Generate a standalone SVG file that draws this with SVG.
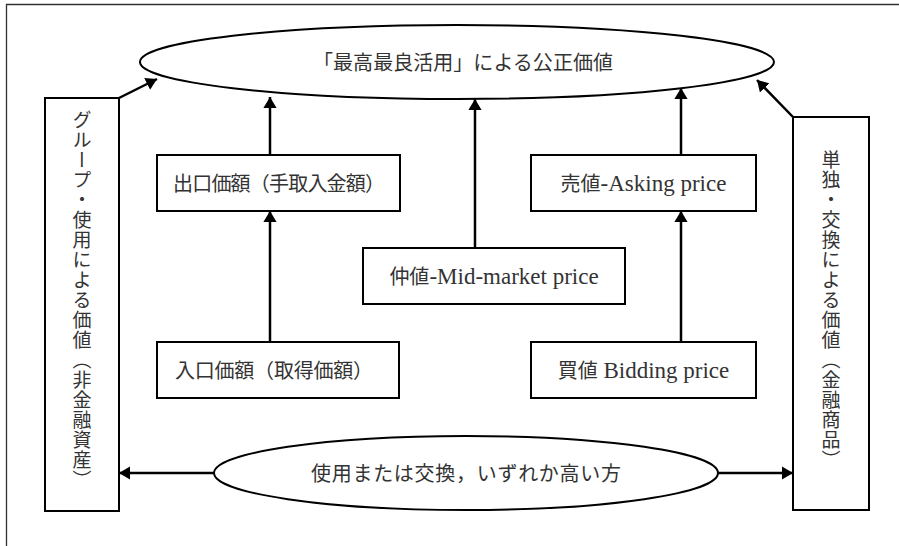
<svg xmlns="http://www.w3.org/2000/svg" width="899" height="546" viewBox="0 0 899 546">
<style>
  .bg { fill: #ffffff; }
  .frame { fill: none; stroke: #333; stroke-width: 1.3; }
  .node { fill: #ffffff; stroke: #000; stroke-width: 2; }
  .lbl { font-family: "Liberation Serif", "Noto Sans CJK JP", serif; font-size: 20px; fill: #333; text-anchor: middle; }
  .lat { font-size: 23px; }
  .vlbl { font-family: "Noto Sans CJK JP", sans-serif; font-size: 19px; fill: #333; writing-mode: vertical-rl; letter-spacing: 1px; }
  .edge { fill: none; stroke: #000; stroke-width: 2.5; }
</style>
<defs>
  <marker id="ah" viewBox="0 0 10 12" refX="10" refY="6" markerWidth="4.4" markerHeight="5.3" markerUnits="strokeWidth" orient="auto">
    <path d="M0,0 L10,6 L0,12 z" fill="#000"/>
  </marker>
</defs>
<rect class="bg" x="0" y="0" width="899" height="546"/>
<path class="frame" d="M6.5,546 L6.5,4.5 L899,4.5"/>

<g id="node-top">
  <ellipse class="node" cx="457" cy="62" rx="317" ry="37"/>
  <text class="lbl" x="463" y="69.5" textLength="300" lengthAdjust="spacing">「最高最良活用」による公正価値</text>
</g>
<g id="node-group">
  <rect class="node" x="45" y="98" width="74" height="413"/>
  <text class="vlbl" x="82" y="110">グループ・使用による価値（非金融資産）</text>
</g>
<g id="node-single">
  <rect class="node" x="793" y="117" width="76" height="393"/>
  <text class="vlbl" x="831" y="150">単独・交換による価値（金融商品）</text>
</g>
<g id="node-exit">
  <rect class="node" x="157" y="155" width="243" height="56"/>
  <text class="lbl" x="279" y="190.5" textLength="212" lengthAdjust="spacing">出口価額（手取入金額）</text>
</g>
<g id="node-ask">
  <rect class="node" x="531" y="155" width="225" height="56"/>
  <text class="lbl" x="643.5" y="190.5">売値<tspan class="lat">-Asking price</tspan></text>
</g>
<g id="node-mid">
  <rect class="node" x="363" y="248" width="262" height="56"/>
  <text class="lbl" x="494" y="283.5">仲値<tspan class="lat">-Mid-market price</tspan></text>
</g>
<g id="node-entry">
  <rect class="node" x="157" y="342" width="242" height="56"/>
  <text class="lbl" x="274" y="377.5" textLength="198" lengthAdjust="spacing">入口価額（取得価額）</text>
</g>
<g id="node-bid">
  <rect class="node" x="531" y="342" width="225" height="56"/>
  <text class="lbl" x="643.5" y="377.5">買値<tspan class="lat"> Bidding price</tspan></text>
</g>
<g id="node-bottom">
  <ellipse class="node" cx="466" cy="473" rx="252" ry="37"/>
  <text class="lbl" x="466" y="480.5" textLength="310" lengthAdjust="spacing">使用または交換，いずれか高い方</text>
</g>

<g id="connectors">
  <line class="edge" x1="270" y1="342" x2="270" y2="211" marker-end="url(#ah)"/>
  <line class="edge" x1="270" y1="155" x2="270" y2="97" marker-end="url(#ah)"/>
  <line class="edge" x1="681" y1="342" x2="681" y2="211" marker-end="url(#ah)"/>
  <line class="edge" x1="681" y1="155" x2="681" y2="88" marker-end="url(#ah)"/>
  <line class="edge" x1="475" y1="248" x2="475" y2="99" marker-end="url(#ah)"/>
  <line class="edge" x1="119" y1="98" x2="157" y2="79" marker-end="url(#ah)"/>
  <line class="edge" x1="793" y1="117" x2="757" y2="80" marker-end="url(#ah)"/>
  <line class="edge" x1="214" y1="473" x2="119" y2="473" marker-end="url(#ah)"/>
  <line class="edge" x1="718" y1="473" x2="793" y2="473" marker-end="url(#ah)"/>
</g>
</svg>
